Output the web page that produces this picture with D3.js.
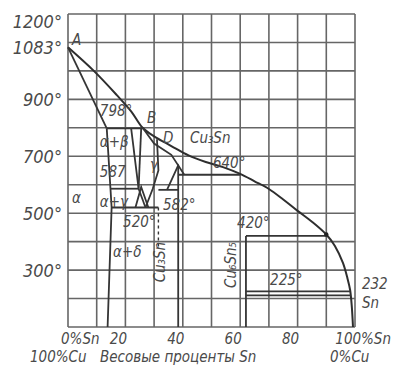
<!DOCTYPE html>
<html>
<head>
<meta charset="utf-8">
<script src="https://cdn.jsdelivr.net/npm/d3@7"></script>
<style>
  html, body { margin: 0; padding: 0; background: #fff; }
  text { font-family: "DejaVu Sans Condensed", "Liberation Sans Narrow", "DejaVu Sans", sans-serif; font-style: italic; fill: #4a4a4a; }
</style>
</head>
<body>
<svg id="chart" width="397" height="376"></svg>
<script>
// temperature / composition values (Sn wt %, °C)
const tempTicks = [1200, 1083, 900, 700, 500, 300]
const snTicks = [20, 40, 60, 80]

const liquidus = [[0, 1083], [9, 1000], [17, 915], [22, 858], [26, 800], [30, 770], [36, 736],
  [42, 703], [48, 680], [54, 662], [60, 638], [65, 612], [70, 585], [75, 548], [80, 508],
  [85, 470], [90, 425], [93, 385], [95.8, 325], [97.4, 270], [98.3, 230], [98.9, 170], [99.3, 100]]
const alphaSolidus = [[0, 1083], [13.5, 798]]
const alphaSolvus = [[13.5, 798], [14.8, 586], [15.2, 520], [13.8, 100]]
const peritectic798 = [[13.5, 798], [26, 798]]
const betaLeft = [[22, 798], [24.6, 586]]
const betaRight = [[25.5, 798], [24.6, 586]]
const eutectoid586 = [[14.8, 586], [24.6, 586]]
const gammaSolidus = [[26, 800], [30, 745], [36, 705], [38.4, 668]]
const gammaLeft = [[24.6, 586], [27, 520]]
const gammaRight = [[31, 760], [31.5, 650], [29.5, 585], [27, 520]]
const deltaPeak = [[23.5, 520], [25.5, 592], [28, 520]]
const eutectoid520 = [[15.2, 520], [31.5, 520]]
const deltaLine = [[31.5, 520], [31.5, 380]]
const epsPeak = [[34.5, 582], [38.4, 668], [40.5, 635]]
const eutectoid582 = [[31.5, 582], [38.4, 582]]
const cu3sn = [[38.4, 668], [38.4, 100]]
const peritectic640 = [[38.4, 635], [60, 635]]
const cu6sn5 = [[62, 420], [62, 100]]
const peritectic420 = [[62, 420], [90, 420]]
const eutectic225 = [[62, 225], [98.3, 225]]
const line212 = [[62, 211], [98.6, 211]]

const straightLines = [alphaSolidus, alphaSolvus, peritectic798, betaLeft, betaRight,
  eutectoid586, gammaSolidus, gammaLeft, gammaRight, deltaPeak, eutectoid520, epsPeak,
  eutectoid582, cu3sn, peritectic640, cu6sn5, peritectic420, eutectic225, line212]
const dashedLines = [deltaLine]

// labels: text, Sn %, °C, rotated?
const labels = [
  ['A', 1.4, 1091, 0], ['798°', 11.1, 841, 0], ['B', 27.5, 817, 0], ['D', 33.1, 747, 0],
  ['Cu₃Sn', 42.5, 747, 0], ['α+β', 11.1, 732, 0], ['γ', 28.6, 652, 0], ['640°', 50.5, 659, 0],
  ['587', 11.1, 627, 0], ['α', 1.4, 535, 0], ['α+γ', 11.1, 522, 0], ['582°', 33.1, 511, 0],
  ['520°', 19.2, 451, 0], ['α+δ', 15.7, 346, 0], ['Cu₃Sn', 32, 328, 1], ['Cu₆Sn₅', 56.8, 318, 1],
  ['420°', 58.9, 448, 0], ['225°', 70.4, 247, 0], ['232', 102.4, 233, 0], ['Sn', 102.4, 167, 0]
]

const svg = d3.select('#chart')
const x = d3.scaleLinear([0, 100], [68, 355])
const y = d3.scaleLinear([100, 1200], [327, 14])

// grid
svg.append('g')
  .selectAll('line')
  .data(d3.range(0, 101, 10))
  .join('line')
  .attr('x1', d => x(d)).attr('x2', d => x(d))
  .attr('y1', y(100)).attr('y2', y(1200))
  .attr('stroke', '#666').attr('stroke-width', 1.6)
svg.append('g')
  .selectAll('line')
  .data(d3.range(100, 1201, 100))
  .join('line')
  .attr('x1', x(0)).attr('x2', x(100))
  .attr('y1', d => y(d)).attr('y2', d => y(d))
  .attr('stroke', '#666').attr('stroke-width', 1.6)

// phase boundaries
const line = d3.line().x(d => x(d[0])).y(d => y(d[1]))
svg.append('path')
  .attr('d', line.curve(d3.curveCatmullRom)(liquidus))
  .attr('fill', 'none').attr('stroke', '#2e2e2e').attr('stroke-width', 2)
line.curve(d3.curveLinear)
svg.append('g')
  .selectAll('path')
  .data(straightLines)
  .join('path')
  .attr('d', line)
  .attr('fill', 'none').attr('stroke', '#353535').attr('stroke-width', 1.8)
svg.append('g')
  .selectAll('path')
  .data(dashedLines)
  .join('path')
  .attr('d', line)
  .attr('fill', 'none').attr('stroke', '#353535').attr('stroke-width', 1.4)
  .attr('stroke-dasharray', '3,3')
svg.append('circle')
  .attr('cx', x(90)).attr('cy', y(425)).attr('r', 2.2).attr('fill', '#222')

// temperature labels
svg.append('g')
  .selectAll('text')
  .data(tempTicks)
  .join('text')
  .attr('x', 62)
  .attr('y', d => Math.max(y(d), 21) + 7)
  .attr('text-anchor', 'end')
  .attr('font-size', 18)
  .text(d => d + '°')

// composition labels
svg.append('text').attr('x', 61).attr('y', 344).attr('font-size', 15).text('0%Sn')
svg.append('g')
  .selectAll('text')
  .data(snTicks)
  .join('text')
  .attr('x', d => x(d) - 7)
  .attr('y', 344)
  .attr('text-anchor', 'middle')
  .attr('font-size', 15)
  .text(d => d)
svg.append('text').attr('x', 391).attr('y', 344).attr('text-anchor', 'end').attr('font-size', 15).text('100%Sn')
svg.append('text').attr('x', 30).attr('y', 362).attr('font-size', 15).text('100%Cu')
svg.append('text').attr('x', 100).attr('y', 362).attr('font-size', 15).text('Весовые проценты Sn')
svg.append('text').attr('x', 330).attr('y', 362).attr('font-size', 15).text('0%Cu')

// region / point labels
svg.append('g')
  .selectAll('text')
  .data(labels)
  .join('text')
  .attr('font-size', 15)
  .attr('text-anchor', d => d[3] ? 'middle' : 'start')
  .attr('dominant-baseline', d => d[3] ? 'central' : 'auto')
  .attr('transform', d => d[3]
    ? `translate(${x(d[1])},${y(d[2])}) rotate(-90)`
    : `translate(${x(d[1])},${y(d[2])})`)
  .text(d => d[0])
</script>
</body>
</html>
